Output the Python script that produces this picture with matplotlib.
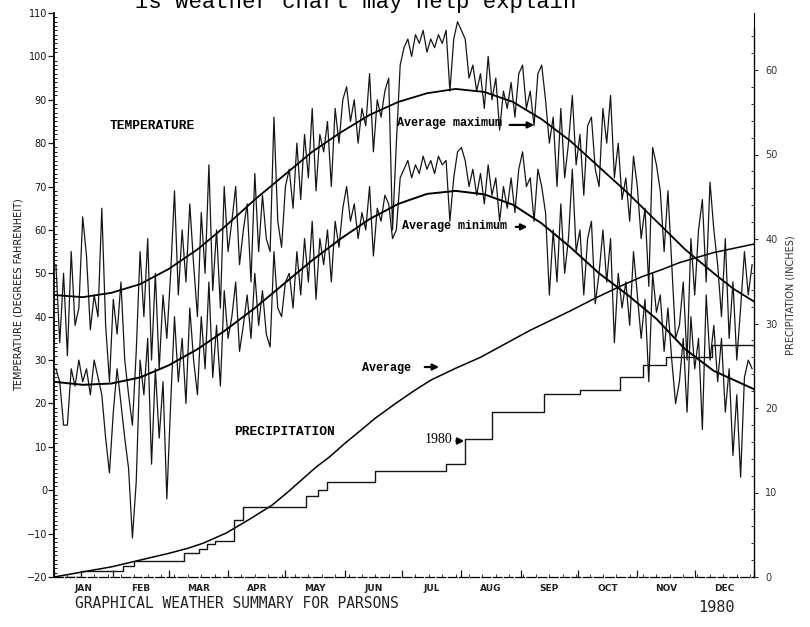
import numpy as np
import matplotlib
matplotlib.use("Agg")
import matplotlib.pyplot as plt

# daily observations, read every other day (day of year 1980)
days = np.arange(1, 366, 2)
max_temp = [
    52, 34, 50, 31, 55, 38, 42, 63, 54, 37, 45, 40, 65, 38, 25, 44,          # jan
    36, 48, 30, 22, 15, 32, 55, 40, 58, 30, 50, 28, 45, 35,                  # feb
    50, 69, 45, 60, 48, 66, 52, 40, 64, 50, 75, 46, 60, 42, 70, 55,          # mar
    62, 70, 52, 60, 66, 48, 73, 55, 68, 58, 55, 86, 62, 56, 70,              # apr
    74, 65, 80, 67, 82, 72, 88, 69, 82, 78, 85, 70, 88, 80, 90,              # may
    93, 85, 90, 80, 88, 84, 96, 78, 90, 86, 92, 95, 60, 80, 98,              # jun
    102, 104, 100, 105, 103, 106, 101, 104, 102, 105, 103, 106, 92, 104, 108, 106,  # jul
    104, 95, 98, 92, 96, 88, 100, 90, 95, 83, 92, 88, 94, 86, 96,            # aug
    98, 88, 92, 84, 96, 98, 90, 80, 86, 70, 88, 72, 80, 91, 75,              # sep
    82, 68, 84, 86, 74, 70, 88, 80, 91, 72, 80, 67, 72, 62, 77, 70,          # oct
    58, 65, 47, 79, 75, 69, 55, 69, 52, 35, 38, 48, 30, 58, 45,              # nov
    60, 67, 48, 71, 60, 52, 40, 58, 35, 48, 30, 42, 55, 45, 52,              # dec
]
min_temp = [
    28, 25, 15, 15, 28, 24, 30, 25, 28, 22, 30, 26, 22, 12, 4, 18,
    28, 20, 12, 5, -11, 2, 30, 22, 35, 6, 28, 12, 25, -2,
    20, 40, 25, 35, 20, 42, 30, 22, 40, 28, 48, 26, 38, 24, 46, 35,
    40, 48, 32, 38, 45, 35, 50, 38, 46, 36, 33, 55, 42, 40, 48,
    50, 42, 55, 45, 58, 48, 62, 44, 58, 52, 60, 48, 62, 56, 65,
    70, 62, 66, 58, 64, 60, 70, 54, 65, 62, 68, 66, 58, 60, 72,
    74, 76, 72, 75, 73, 77, 74, 76, 73, 77, 75, 76, 62, 72, 78, 79,
    76, 70, 74, 68, 73, 66, 75, 68, 72, 62, 70, 65, 72, 64, 74,
    78, 70, 72, 62, 74, 70, 64, 45, 60, 48, 66, 50, 58, 74, 55,
    60, 45, 58, 62, 43, 50, 60, 48, 58, 34, 50, 42, 48, 38, 55, 45,
    35, 44, 25, 50, 41, 45, 32, 42, 30, 20, 25, 35, 18, 40, 28,
    35, 14, 45, 30, 38, 25, 35, 18, 28, 8, 22, 3, 26, 30, 28,
]

avg_max_days = [0, 15, 30, 45, 60, 75, 90, 105, 120, 135, 150, 165, 180,
                195, 210, 225, 240, 255, 270, 285, 300, 315, 330, 345, 355, 366]
avg_max = [45, 44.5, 45.5, 47.5, 51, 55.5, 61, 67, 72.5, 78, 82.5, 86.5, 89.5,
           91.5, 92.5, 91.8, 89.5, 85.5, 80.5, 74.5, 68.5, 62, 55.5, 50, 46.5, 43.5]
avg_min_days = [0, 15, 30, 45, 60, 75, 90, 105, 120, 135, 150, 165, 180,
                195, 210, 225, 240, 255, 270, 285, 300, 315, 330, 345, 366]
avg_min = [25, 24.3, 24.6, 26, 28.8, 32.5, 37, 42, 47.5, 53, 58, 62.5, 66,
           68.3, 69, 68.2, 65.8, 61.5, 56, 50, 45, 39.5, 32.5, 27.5, 23.3]

# cumulative precipitation, inches
precip_avg_days = [0, 15, 30, 45, 60, 70, 78, 90, 102, 114, 122, 130, 137, 144,
                   152, 159, 168, 179, 188, 197, 210, 223, 236, 249, 260, 270,
                   283, 296, 307, 318, 327, 345, 366]
precip_avg = [0, 0.6, 1.2, 2.0, 2.8, 3.4, 4.0, 5.2, 6.8, 8.5, 10.0, 11.6, 13.0, 14.2,
              15.8, 17.1, 18.8, 20.6, 22.0, 23.3, 24.7, 26.0, 27.6, 29.2, 30.4, 31.5,
              33.0, 34.4, 35.5, 36.4, 37.2, 38.4, 39.4]
precip_1980_days = [0, 14, 36, 42, 68, 76, 80, 84, 94, 99, 132, 138, 143, 168,
                    205, 215, 229, 256, 275, 296, 308, 320, 344, 366]
precip_1980 = [0, 0.7, 1.3, 1.9, 2.8, 3.3, 3.9, 4.3, 6.8, 8.3, 9.6, 10.3, 11.2, 12.6,
               13.4, 16.3, 19.5, 21.6, 22.1, 23.7, 25.1, 26.0, 27.5, 27.5]

months = ["JAN", "FEB", "MAR", "APR", "MAY", "JUN",
          "JUL", "AUG", "SEP", "OCT", "NOV", "DEC"]
month_starts = [0, 31, 60, 91, 121, 152, 182, 213, 244, 274, 305, 335, 366]

INK = "#161616"

fig = plt.figure(figsize=(8.1, 6.27), dpi=100)
ax = fig.add_axes([54 / 810, 1 - 577 / 627, 700 / 810, 564 / 627])
ax2 = ax.twinx()

ax.plot(days, max_temp, color=INK, lw=0.9)
ax.plot(days, min_temp, color=INK, lw=0.9)
ax.plot(avg_max_days, avg_max, color="black", lw=1.3)
ax.plot(avg_min_days, avg_min, color="black", lw=1.4)

ax2.plot(precip_avg_days, precip_avg, color="black", lw=1.1)
ax2.step(precip_1980_days, precip_1980, where="post", color=INK, lw=1.0)

ax.set_xlim(0, 366)
ax.set_ylim(-20, 110)
ax2.set_ylim(0, 564 / 8.45)

ax.spines["top"].set_visible(False)
ax2.spines["top"].set_visible(False)
ax.spines["left"].set_linewidth(1.3)
ax.spines["bottom"].set_linewidth(0.9)
ax.spines["bottom"].set_linestyle((0, (7, 2)))
ax2.spines["right"].set_linewidth(0.9)
ax2.spines["right"].set_bounds(0, 65)
ax2.spines["left"].set_visible(False)
ax2.spines["bottom"].set_visible(False)

# left axis ticks
ax.set_yticks(np.arange(-20, 111, 10))
ax.set_yticks(np.arange(-20, 111, 1), minor=True)
ax.tick_params(axis="y", which="major", direction="out", length=4, width=0.9,
               labelsize=7, pad=1, colors=INK)
ax.tick_params(axis="y", which="minor", direction="in", length=2.5, width=0.7, color=INK)

# right axis ticks
ax2.set_yticks(np.arange(0, 61, 10))
ax2.set_yticks(np.arange(0, 65, 2), minor=True)
ax2.tick_params(axis="y", which="major", direction="out", length=3, width=0.8,
                labelsize=7, pad=5, colors="#333333")
ax2.tick_params(axis="y", which="minor", direction="in", length=2.5, width=0.6, color=INK)

# month ticks and labels
ax.set_xticks(month_starts)
ax.set_xticks(np.arange(0, 366, 7), minor=True)
ax.set_xticklabels([])
ax.tick_params(axis="x", which="major", direction="in", length=5, width=0.9, color=INK)
ax.tick_params(axis="x", which="minor", direction="in", length=2, width=0.6, color=INK)
mids = [(a + b) / 2 for a, b in zip(month_starts[:-1], month_starts[1:])]
for m, label in zip(mids, months):
    ax.text(m, -0.012, label, transform=ax.get_xaxis_transform(), ha="center", va="top",
            fontsize=6.5, fontweight="bold", color="#222222", family="DejaVu Sans")

ax.set_ylabel("TEMPERATURE (DEGREES FAHRENHEIT)", fontsize=7, color=INK, labelpad=2)
ax2.set_ylabel("PRECIPITATION (INCHES)", fontsize=7, color="#333333", labelpad=6)

mono = dict(family="Liberation Mono", fontweight="bold", color="black")
ax.text(29.3, 84, "TEMPERATURE", fontsize=9.3, ha="left", va="center", **mono)
ax.text(94, 13.4, "PRECIPITATION", fontsize=9.3, ha="left", va="center", **mono)
ax.text(179.3, 84.7, "Average maximum", fontsize=8.5, ha="left", va="center", **mono)
ax.text(182, 60.9, "Average minimum", fontsize=8.5, ha="left", va="center", **mono)
ax.text(161, 28.2, "Average", fontsize=8.5, ha="left", va="center", **mono)
ax.text(194, 11.6, "1980", fontsize=10, ha="left", va="center",
        family="Liberation Serif", color="black")

arrow = dict(arrowstyle="-|>", color="black", lw=1.6, mutation_scale=9)
for x0, x1, y in [(236.8, 252.5, 84.2), (240, 249, 60.7), (192.4, 202.8, 28.4), (209, 216, 11.35)]:
    ax.annotate("", xy=(x1, y), xytext=(x0, y), arrowprops=arrow)

fig.text(75 / 810, 1 - 604 / 627, "GRAPHICAL WEATHER SUMMARY FOR PARSONS",
         fontsize=10.5, family="DejaVu Sans Mono", color="#222222", va="center")
fig.text(698 / 810, 1 - 607 / 627, "1980", fontsize=11,
         family="DejaVu Sans Mono", color="#222222", va="center")
# caption line of the scanned page, cut off by the top edge as in the scan
fig.text(135 / 810, 1 - 8 / 627, "is weather chart may help explain",
         fontsize=16, family="Liberation Mono", color="black", va="baseline")

fig.savefig("out.png", dpi=100, facecolor="white")
